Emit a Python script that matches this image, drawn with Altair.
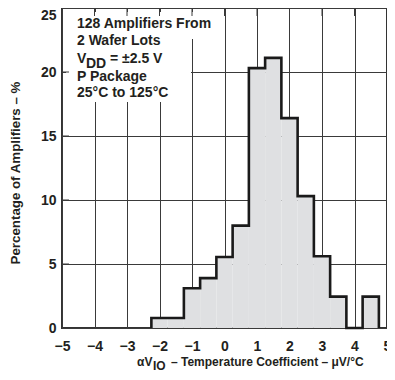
import altair as alt
import pandas as pd

# ---- data ----
bin_left = [-2.25, -1.75, -1.25, -0.75, -0.25, 0.25, 0.75, 1.25, 1.75, 2.25, 2.75, 3.25, 3.75, 4.25]
pct = [0.78, 0.78, 3.1, 3.9, 5.55, 8.0, 20.3, 21.1, 16.4, 10.3, 5.6, 2.45, 0.0, 2.45]
bin_width = 0.5
x_ticks = [-5, -4, -3, -2, -1, 0, 1, 2, 3, 4, 5]
y_ticks = [0, 5, 10, 15, 20, 25]
inner_x_ticks = [-4, -3, -2, -1, 0, 1, 2, 3, 4]
inner_y_ticks = [5, 10, 15, 20]

FONT = "Liberation Sans"
TXT = "#231f20"
W, H = 325, 320

bars = pd.DataFrame({
    "left": bin_left,
    "right": [b + bin_width for b in bin_left],
    "pct": pct,
    "base": [0.0] * len(pct),
})

# outline vertices derived from the bins
ox, oy = [bin_left[0]], [0.0]
for l, h in zip(bin_left, pct):
    ox += [l, l + bin_width]
    oy += [h, h]
ox.append(bin_left[-1] + bin_width)
oy.append(0.0)
outline = pd.DataFrame({"i": list(range(len(ox))), "x": ox, "y": oy})

xs = alt.Scale(domain=[-5, 5], nice=False, zero=False)
ys = alt.Scale(domain=[0, 25], nice=False, zero=False)

xaxis = alt.Axis(values=x_ticks, title=None, grid=True, gridColor="#3a3a3a", gridWidth=1,
                 domain=False, ticks=False, tickSize=0, labelPadding=11, labelFontSize=14,
                 labelFontWeight="bold", labelFont=FONT, labelColor=TXT, labelFlush=False,
                 labelOverlap=False, labelExpr="replace(datum.label, '-', '\u2212')")
yaxis = alt.Axis(values=y_ticks, title=None, grid=True, gridColor="#3a3a3a", gridWidth=1,
                 domain=False, ticks=False, tickSize=0, labelPadding=6, labelFontSize=14,
                 labelFontWeight="bold", labelFont=FONT, labelColor=TXT, labelFlush=False,
                 labelOverlap=False,
                 labelBaseline={"condition": {"test": "datum.value == 25", "value": "top"},
                                "value": "middle"})

fill = alt.Chart(bars).mark_rect(fill="#dfe0e2").encode(
    x=alt.X("left:Q", scale=xs, axis=xaxis),
    x2="right:Q",
    y=alt.Y("pct:Q", scale=ys, axis=yaxis),
    y2="base:Q",
)

line = alt.Chart(outline).mark_line(color="#1a1a1a", strokeWidth=2.6, strokeJoin="miter",
                                    strokeCap="butt").encode(
    x=alt.X("x:Q", scale=xs, axis=xaxis),
    y=alt.Y("y:Q", scale=ys, axis=yaxis),
    order="i:Q",
)

one = pd.DataFrame({"a": [0]})


def box(x1, x2, y1, y2):
    return alt.Chart(one).mark_rect(fill="white").encode(
        x=alt.value(x1), x2=alt.value(x2), y=alt.value(y1), y2=alt.value(y2))


def txt(s, x, y, size=14, align="left", baseline="alphabetic", angle=0):
    return alt.Chart(one).mark_text(align=align, baseline=baseline, fontSize=size,
                                    fontWeight="bold", font=FONT, color=TXT, angle=angle).encode(
        x=alt.value(x), y=alt.value(y), text=alt.value(s))


top_ticks = alt.Chart(pd.DataFrame({"v": inner_x_ticks})).mark_rule(color="#3a3a3a", strokeWidth=1).encode(
    x=alt.X("v:Q", scale=xs, axis=xaxis), y=alt.value(0), y2=alt.value(8))
left_ticks = alt.Chart(pd.DataFrame({"v": inner_y_ticks})).mark_rule(color="#3a3a3a", strokeWidth=1).encode(
    y=alt.Y("v:Q", scale=ys, axis=yaxis), x=alt.value(0), x2=alt.value(7))

layers = [
    fill,
    line,
    box(4, 129, 4, 94),
    box(4, 149, 4, 31),
    top_ticks,
    left_ticks,
    txt("128 Amplifiers From", 15, 20),
    txt("2 Wafer Lots", 15, 36.5),
    txt("V", 15, 55),
    txt("DD", 24, 59.5),
    txt("= \u00b12.5 V", 48, 55),
    txt("P Package", 15, 72.5),
    txt("25\u00b0C to 125\u00b0C", 15, 88.5),
    txt("Percentage of Amplifiers \u2013 %", -46, 165, size=13.3, align="center",
        baseline="middle", angle=270),
    txt("\u03b1V", 75, 358, size=12),
    txt("IO", 91, 362, size=12),
    txt("\u2013 Temperature Coefficient \u2013 \u03bcV/\u00b0C", 109, 358, size=12),
]

chart = alt.layer(*layers).properties(
    width=W, height=H,
    autosize=alt.AutoSizeParams(type="none"),
    padding={"left": 54, "top": 0, "right": 0, "bottom": 44},
    background="white",
).configure_view(stroke="#333333", strokeWidth=2)

chart.save("out.html", embed_options={"renderer": "svg", "actions": False})
